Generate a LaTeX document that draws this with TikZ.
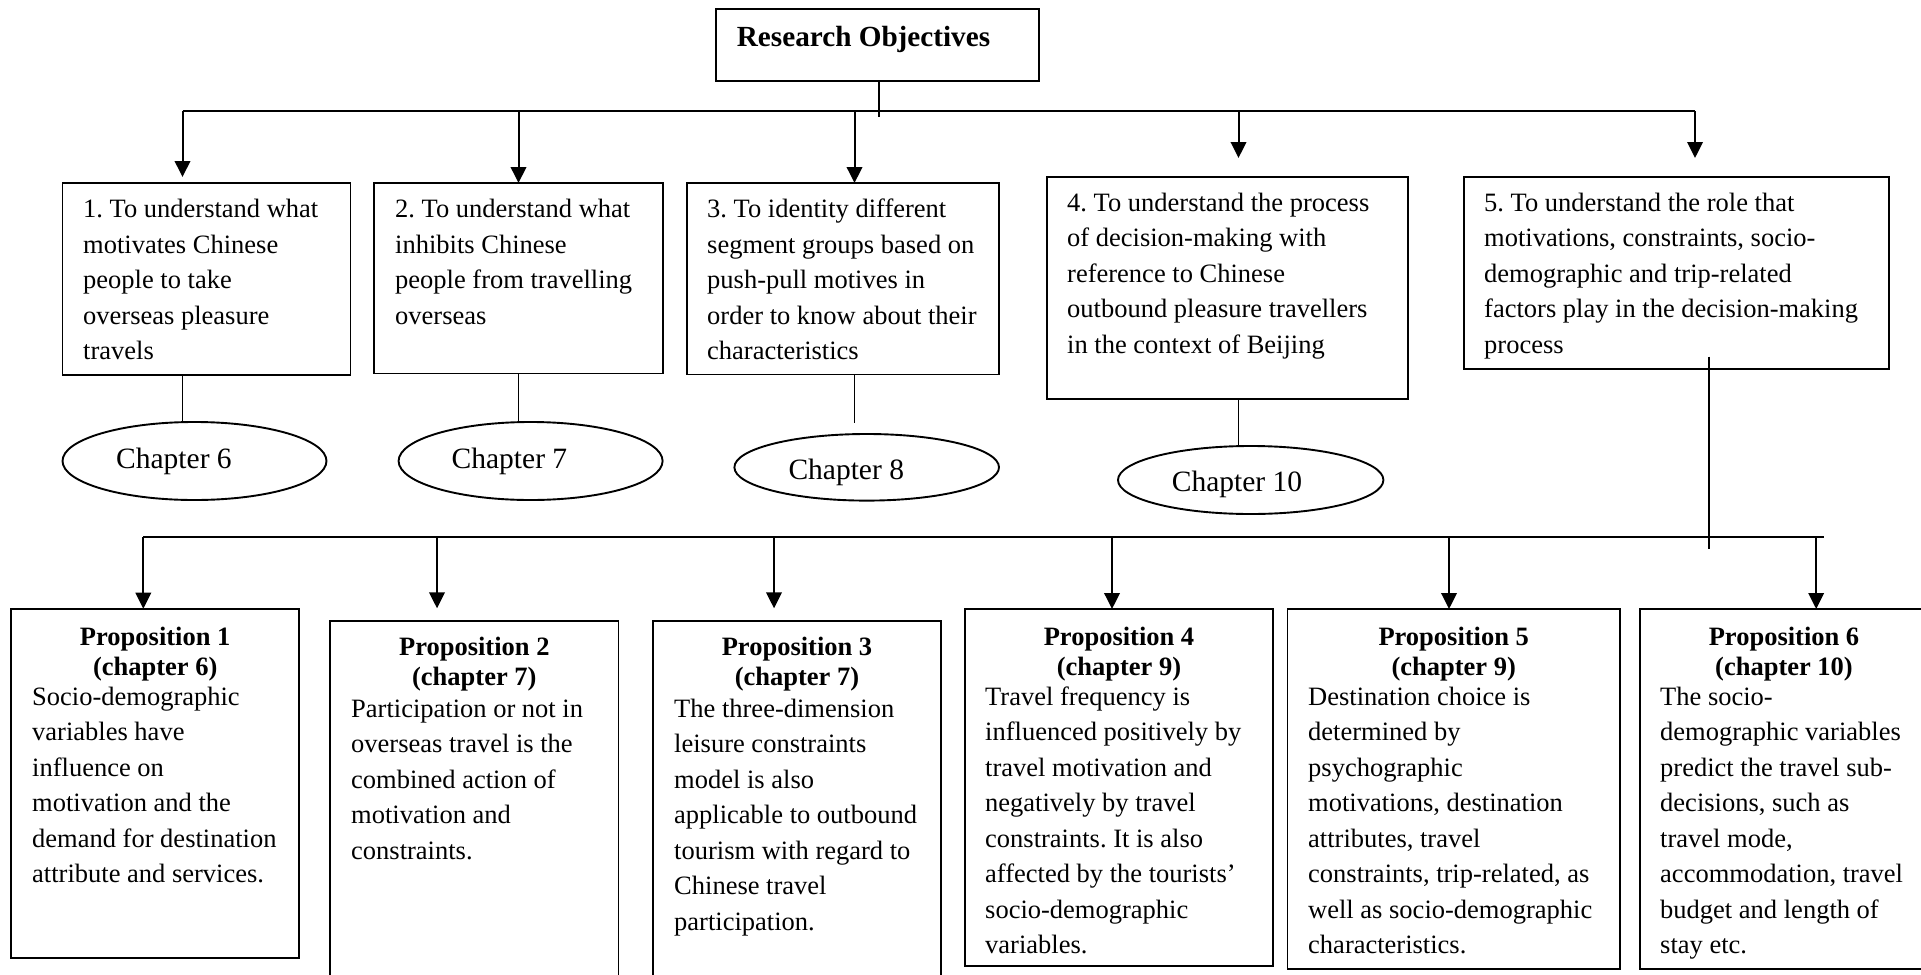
\documentclass[tikz,border=0pt]{standalone}
\usepackage{fontspec}
\setmainfont{Liberation Serif}
\usetikzlibrary{shapes.geometric,arrows.meta,calc}
\frenchspacing

% left-aligned lines of text, baseline on the first line
\newcommand\textlines[1]{\begin{tabular}[t]{@{}l@{}}#1\end{tabular}}
% centred two-line proposition heading
\newcommand\prophead[2]{\begin{tabular}[t]{@{}c@{}}#1\\#2\end{tabular}}

\begin{document}
\begin{tikzpicture}[x=1pt,y=-1pt,
  frame/.style={draw, rectangle, line width=1.9pt, inner sep=0pt, outer sep=0pt, anchor=north west},
  oval/.style={draw, ellipse, line width=1.9pt, inner sep=0pt, outer sep=0pt},
  link/.style={line width=1.9pt},
  arr/.style={line width=2pt, -{Triangle[length=16pt,width=15.5pt]}},
  body/.style={anchor=base west, inner sep=0pt, font=\fontsize{26.5}{35.5}\selectfont},
  head/.style={anchor=base, inner sep=0pt, font=\fontsize{26.5}{30.5}\selectfont\bfseries},
  chap/.style={anchor=base west, inner sep=0pt, font=\fontsize{29.5}{34}\selectfont},
  title/.style={anchor=base west, inner sep=0pt, font=\fontsize{29.2}{34}\selectfont\bfseries},
]
\useasboundingbox (0,0) rectangle (1921,974);
\clip (0,0) rectangle (1921,974);

% ---- top box ----
\node[frame, minimum width=323pt, minimum height=71.4pt] (ro) at (715.7,9.3) {};
\node[title] (rot) at (736.7,46.7) {Research Objectives};

% ---- objectives ----
\node[frame, minimum width=288pt,   minimum height=192pt]   (o1) at (62.5,183) {};
\node[frame, minimum width=288.7pt, minimum height=190.5pt] (o2) at (374.3,183) {};
\node[frame, minimum width=312pt,   minimum height=191.5pt] (o3) at (687,183) {};
\node[frame, minimum width=360.6pt, minimum height=222pt]   (o4) at (1047,177) {};
\node[frame, minimum width=425pt,   minimum height=192pt]   (o5) at (1464,177) {};

\node[body] (o1t) at (83,217.7) {\textlines{1. To understand what\\motivates Chinese\\people to take\\overseas pleasure\\travels}};
\node[body] (o2t) at (395,217.7) {\textlines{2. To understand what\\inhibits Chinese\\people from travelling\\overseas}};
\node[body] (o3t) at (707,217.7) {\textlines{3. To identity different\\segment groups based on\\push-pull motives in\\order to know about their\\characteristics}};
\node[body] (o4t) at (1067,211.4) {\textlines{4. To understand the process\\of decision-making with\\reference to Chinese\\outbound pleasure travellers\\in the context of Beijing}};
\node[body] (o5t) at (1484,211.4) {\textlines{5. To understand the role that\\motivations, constraints, socio-\\demographic and trip-related\\factors play in the decision-making\\process}};

% ---- chapter ovals ----
\node[oval, minimum width=264pt,   minimum height=78pt]   (c6)  at (194.5,461) {};
\node[oval, minimum width=264pt,   minimum height=78pt]   (c7)  at (530.6,461) {};
\node[oval, minimum width=264.6pt, minimum height=66.6pt] (c8)  at (866.7,467.3) {};
\node[oval, minimum width=265.4pt, minimum height=68pt]   (c10) at (1250.7,480) {};
\node[chap] (c6t)  at (116,468)     {Chapter 6};
\node[chap] (c7t)  at (451.5,468)   {Chapter 7};
\node[chap] (c8t)  at (788.3,479.3) {Chapter 8};
\node[chap] (c10t) at (1171.7,491)  {Chapter 10};

% ---- propositions ----
\node[frame, minimum width=288.3pt, minimum height=349.3pt] (p1) at (11,608.7) {};
\node[frame, minimum width=288.5pt, minimum height=400pt]   (p2) at (330,621) {};
\node[frame, minimum width=288.7pt, minimum height=400pt]   (p3) at (652.6,621) {};
\node[frame, minimum width=308.2pt, minimum height=357pt]   (p4) at (965,609) {};
\node[frame, minimum width=332.5pt, minimum height=360pt]   (p5) at (1287.5,609) {};
\node[frame, minimum width=290pt,   minimum height=360pt]   (p6) at (1640,609) {};

\node[head] (p1h) at (155.2,645)  {\prophead{Proposition 1}{(chapter 6)}};
\node[head] (p2h) at (474.3,655)  {\prophead{Proposition 2}{(chapter 7)}};
\node[head] (p3h) at (797,655)    {\prophead{Proposition 3}{(chapter 7)}};
\node[head] (p4h) at (1119,645)   {\prophead{Proposition 4}{(chapter 9)}};
\node[head] (p5h) at (1453.7,645) {\prophead{Proposition 5}{(chapter 9)}};
\node[head] (p6h) at (1784,645)   {\prophead{Proposition 6}{(chapter 10)}};

\node[body] (p1t) at (32,705) {\textlines{Socio-demographic\\variables have\\influence on\\motivation and the\\demand for destination\\attribute and services.}};
\node[body] (p2t) at (351,717) {\textlines{Participation or not in\\overseas travel is the\\combined action of\\motivation and\\constraints.}};
\node[body] (p3t) at (674,717) {\textlines{The three-dimension\\leisure constraints\\model is also\\applicable to outbound\\tourism with regard to\\Chinese travel\\participation.}};
\node[body] (p4t) at (985,705) {\textlines{Travel frequency is\\influenced positively by\\travel motivation and\\negatively by travel\\constraints. It is also\\affected by the tourists'\\socio-demographic\\variables.}};
\node[body] (p5t) at (1308,705) {\textlines{Destination choice is\\determined by\\psychographic\\motivations, destination\\attributes, travel\\constraints, trip-related, as\\well as socio-demographic\\characteristics.}};
\node[body] (p6t) at (1660,705) {\textlines{The socio-\\demographic variables\\predict the travel sub-\\decisions, such as\\travel mode,\\accommodation, travel\\budget and length of\\stay etc.}};

% ---- upper distribution line ----
\coordinate (t1) at (182.5,111);
\coordinate (t2) at (518.5,111);
\coordinate (t3) at (854.5,111);
\coordinate (t4) at (1238.5,111);
\coordinate (t5) at (1695,111);
\coordinate (stem) at (879,116.7);

\draw[link] (ro.south -| stem) -- (stem);
\draw[link] (t1) -- (t5);
\draw[arr, shorten >=6pt]  (t1) -- (t1 |- o1.north);
\draw[arr]                 (t2) -- (t2 |- o2.north);
\draw[arr]                 (t3) -- (t3 |- o3.north);
\draw[arr, shorten >=19pt] (t4) -- (t4 |- o4.north);
\draw[arr, shorten >=19pt] (t5) -- (t5 |- o5.north);

% ---- objectives to chapters ----
\draw[link] (t1 |- o1.south) -- (t1 |- c6.north);
\draw[link] (t2 |- o2.south) -- (t2 |- c7.north);
\draw[link, shorten >=11pt] (t3 |- o3.south) -- (t3 |- c8.north);
\draw[link] (t4 |- o4.south) -- (t4 |- c10.north);

% ---- lower distribution line ----
\coordinate (s1) at (1709.3,356.7);
\coordinate (s2) at (1709.3,549);
\coordinate (b1) at (143.3,537.3);
\coordinate (b2) at (437,537.3);
\coordinate (b3) at (774,537.3);
\coordinate (b4) at (1112,537.3);
\coordinate (b5) at (1449,537.3);
\coordinate (b6) at (1816.2,537.3);
\coordinate (bR) at (1824.3,537.3);

\draw[link] (s1) -- (s2);
\draw[link] (b1) -- (bR);
\draw[arr]                   (b1) -- (b1 |- p1.north);
\draw[arr, shorten >=12.7pt] (b2) -- (b2 |- p2.north);
\draw[arr, shorten >=12.7pt] (b3) -- (b3 |- p3.north);
\draw[arr]                   (b4) -- (b4 |- p4.north);
\draw[arr]                   (b5) -- (b5 |- p5.north);
\draw[arr]                   (b6) -- (b6 |- p6.north);
\end{tikzpicture}
\end{document}
